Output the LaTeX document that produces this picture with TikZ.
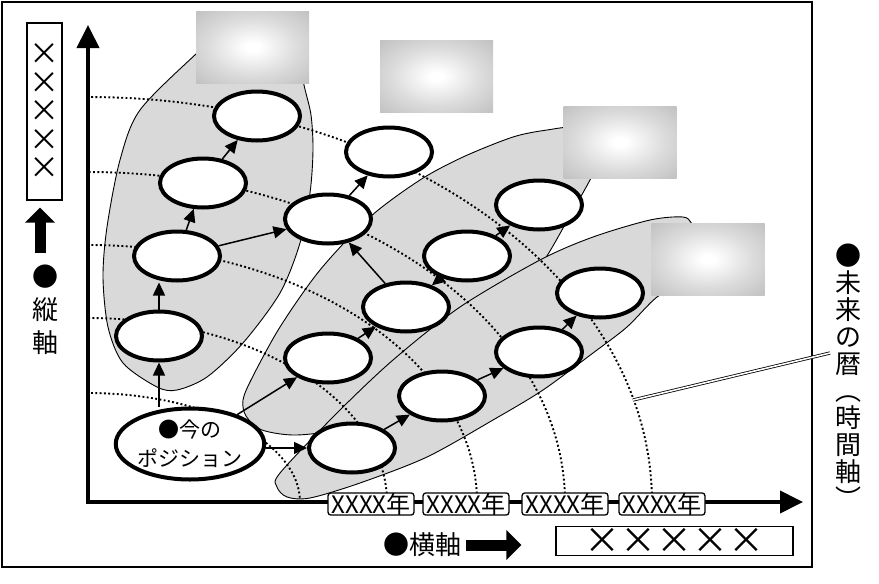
\documentclass[tikz,border=0pt]{standalone}
\usepackage{fontspec}
\setmainfont{Noto Sans CJK JP}
\usetikzlibrary{arrows.meta,shapes.geometric}
\pgfdeclareradialshading{softglow}{\pgfpoint{0bp}{0bp}}{color(0bp)=(white); color(3bp)=(white); color(20bp)=(black!14); color(35bp)=(black!24); color(50bp)=(black!30); color(72bp)=(black!35)}
\begin{document}
\begin{tikzpicture}[x = 1pt, y = -1pt,
	stage/.style = {ellipse, draw, line width = 4pt, fill = white, minimum width = 86pt, minimum height = 49pt, inner sep = 0pt},
	flow/.style = {line width = 1.5pt, -{Triangle[length = 13pt, width = 12pt]}},
	group/.style = {fill = black!15, draw = black, line width = .9pt},
	ring/.style = {line width = 1.9pt, dash pattern = on 1.9pt off 2.4pt},
	glow/.style = {shade, shading = softglow, minimum width = 113pt, minimum height = 72pt, inner sep = 0pt},
	year/.style = {draw, fill = white, rounded corners = 3pt, line width = 1.3pt, minimum width = 86pt, minimum height = 22pt, inner sep = 0pt, font = \fontsize{24pt}{24pt}\selectfont},
	bigarrow/.style = {line width = 11pt, -{Triangle[length = 15pt, width = 29pt]}},
	axis/.style = {line width = 4pt, {Triangle[length = 23pt, width = 22pt]}-{Triangle[length = 23pt, width = 22pt]}}]
	\useasboundingbox (0,0) rectangle (879,584);
	\draw[line width = 2pt] (2,2) rectangle (812,567);
	% groups
	\filldraw[group] plot[smooth cycle] coordinates {(197,53) (228,26) (268,22) (297,48) (304,85) (311,115) (313,150) (310,193) (300,243) (280,293) (243,343) (207,377) (177,390) (157,387) (123,363) (108,327) (103,277) (107,227) (120,160) (140,110)};
	\filldraw[group] plot[smooth cycle] coordinates {(297,435) (262,430) (246,416) (243,400) (252,378) (280,327) (320,270) (370,217) (420,180) (463,157) (513,137) (547,130) (575,128) (596,145) (594,170) (590,180) (567,221) (543,262) (500,320) (400,390) (340,427)};
	\filldraw[group] plot[smooth cycle] coordinates {(280,473) (337,413) (393,360) (460,307) (540,260) (593,237) (650,220) (683,217) (692,224) (705,245) (690,278) (657,297) (627,327) (593,353) (543,390) (493,420) (427,457) (360,483) (310,498) (287,497) (277,487)};
	% time rings
	\foreach \rx/\ry in {212/109, 299/184, 389/257, 477/330, 564/405}
		\draw[ring] plot[domain = 0:90, samples = 60, smooth] ({88+\rx*cos(\x)}, {502-\ry*sin(\x)});
	\node[glow] (pic1) at (252.5,47) {};
	\node[glow] (pic2) at (436.5,76.5) {};
	\node[glow] (pic3) at (620,142) {};
	\node[glow] (pic4) at (708,259) {};
	% axes
	\coordinate (origin) at (88,502);
	\coordinate (ytip) at (88,25);
	\coordinate (xtip) at (803,502);
	\draw[axis] (ytip) -- (origin) -- (xtip);
	\node[year] (y1) at (371,504) {XXXX年};
	\node[year] (y2) at (466,504) {XXXX年};
	\node[year] (y3) at (565,504) {XXXX年};
	\node[year] (y4) at (662,504) {XXXX年};
	% stages
	\node[stage] (a1) at (159,336) {};
	\node[stage] (a2) at (177,256) {};
	\node[stage] (a3) at (203,183) {};
	\node[stage] (a4) at (257,116) {};
	\node[stage] (b1) at (328,219) {};
	\node[stage] (b2) at (389,152) {};
	\node[stage] (c1) at (328,358) {};
	\node[stage] (c2) at (406,307) {};
	\node[stage] (c3) at (467,256) {};
	\node[stage] (c4) at (539,205) {};
	\node[stage] (d1) at (352,448) {};
	\node[stage] (d2) at (442,396) {};
	\node[stage] (d3) at (539,352) {};
	\node[stage] (d4) at (600,293) {};
	\node[stage, minimum width = 131pt, minimum height = 71pt, align = center, font = \fontsize{21pt}{29pt}\selectfont] (now) at (190,444) {●今の\\ポジション};
	\draw[flow] (a1 |- now.north) -- (a1.south);
	\draw[flow] (a1.north) -- (a1.north |- a2.south);
	\draw[flow] (a2) -- (a3);
	\draw[flow] (a3) -- (a4);
	\draw[flow] (a2) -- (b1);
	\draw[flow] (b1) -- (b2);
	\draw[flow] (now) -- (c1);
	\draw[flow] (now.east |- d1) -- (d1);
	\draw[flow] (c1) -- (c2);
	\draw[flow] (c2) -- (b1);
	\draw[flow] (c3) -- (c2);
	\draw[flow] (c3) -- (c4);
	\draw[flow] (d1) -- (d2);
	\draw[flow] (d2) -- (d3);
	\draw[flow] (d3) -- (d4);
	% labels
	\node[draw, line width = 1.3pt, minimum width = 35pt, minimum height = 177pt, inner sep = 0pt, align = center, font = \fontsize{30pt}{28.5pt}\selectfont] (vbox) at (44.5,111.5) {×\\×\\×\\×\\×};
	\node[align = center, font = \fontsize{26pt}{33pt}\selectfont] (vlabel) at (45,310) {●\\縦\\軸};
	\coordinate (vtail) at (40,253);
	\draw[bigarrow] (vtail) -- (vtail |- vbox.south) [shorten > = 7pt];
	\node[font = \fontsize{26pt}{26pt}\selectfont] (hlabel) at (422,545) {●横軸};
	\node[draw, line width = 1.3pt, minimum width = 237pt, minimum height = 29pt, inner sep = 0pt, font = \fontsize{36pt}{36pt}\selectfont] (hbox) at (674.5,541) {×××××};
	\coordinate (htail) at (466,545);
	\draw[bigarrow, shorten > = 34pt] (htail) -- (hbox.west |- htail);
	\node[align = center, font = \fontsize{26pt}{27pt}\selectfont] (future) at (848,376) {●\\未\\来\\の\\暦\\︵\\時\\間\\軸\\︶};
	\coordinate (calref) at (633,400);
	\coordinate (calnote) at (830,353);
	\draw[double, line width = .8pt, double distance = 1.6pt] (calref) -- (calnote);
\end{tikzpicture}
\end{document}
